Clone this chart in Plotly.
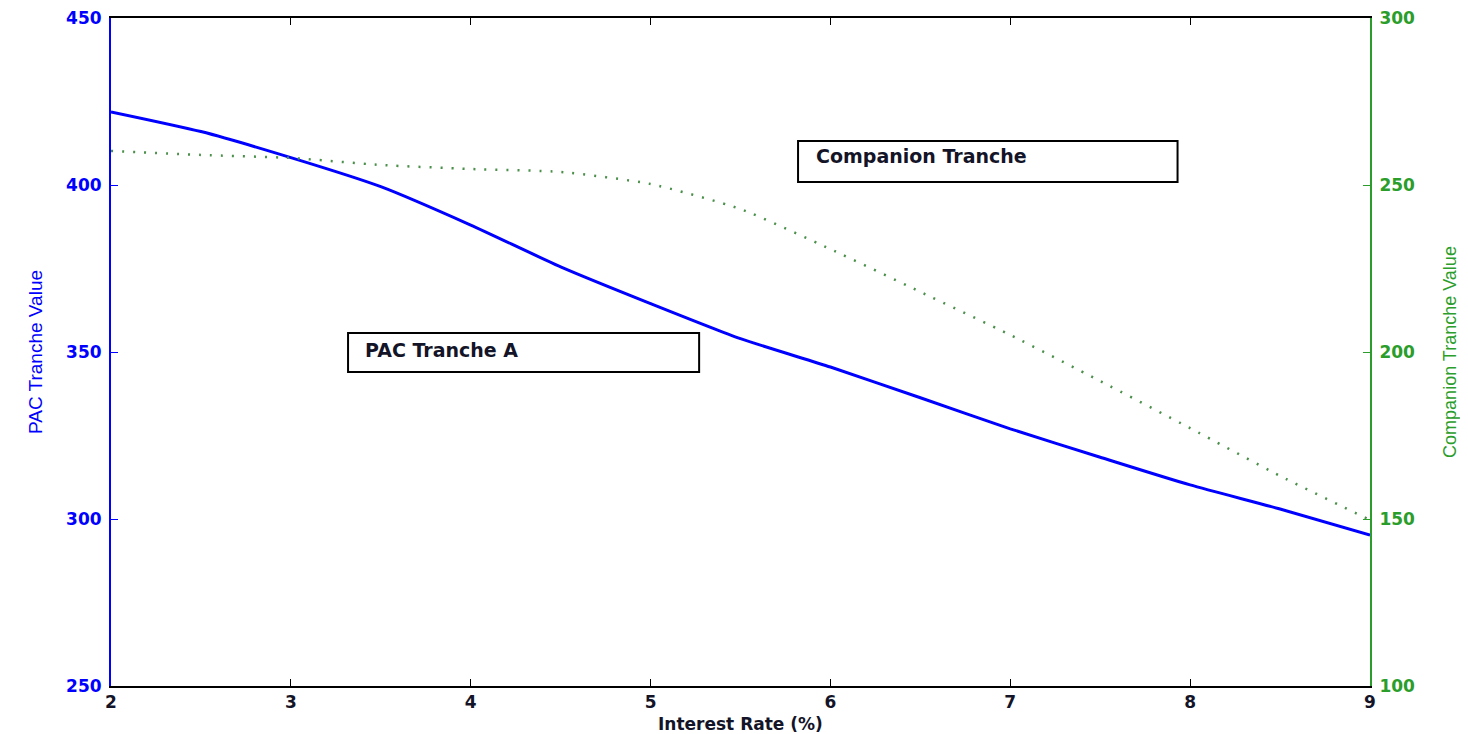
import plotly.graph_objects as go

rate = [2, 2.5, 3, 3.5, 4, 4.5, 5, 5.5, 6, 6.5, 7, 7.5, 8, 8.5, 9]
pac_value = [421.9, 416.0, 408.2, 399.5, 388.0, 375.5, 364.5, 354.0, 345.5,
             336.3, 327.0, 318.5, 310.2, 303.0, 295.2]
companion_value = [260.2, 259.0, 258.1, 256.0, 254.8, 253.9, 250.3, 242.8, 230.8,
                   218.0, 205.1, 191.3, 177.2, 162.9, 149.7]

x_ticks = [2, 3, 4, 5, 6, 7, 8, 9]
y1_ticks = [250, 300, 350, 400, 450]
y2_ticks = [100, 150, 200, 250, 300]

BLUE = "#0000ff"
GREEN = "#2a9d2a"
DOT_GREEN = "#4a8f4a"
FONT = "DejaVu Sans"
TXT = "#141428"

fig = go.Figure()
fig.add_trace(go.Scatter(x=rate, y=pac_value, mode="lines", name="PAC Tranche A",
                         line=dict(color=BLUE, width=3, shape="spline", smoothing=0.6)))
fig.add_trace(go.Scatter(x=rate, y=companion_value, mode="lines", name="Companion Tranche",
                         yaxis="y2",
                         line=dict(color=DOT_GREEN, width=2.5, dash="2px,9px",
                                   shape="spline", smoothing=0.6)))

# text boxes
fig.add_shape(type="rect", xref="x", yref="y", x0=3.318, x1=5.27, y0=344.0, y1=355.7,
              line=dict(color="black", width=2), fillcolor="rgba(0,0,0,0)")
fig.add_annotation(x=3.40, y=350.5, xref="x", yref="y", text="PAC Tranche A",
                   showarrow=False, xanchor="left", yanchor="middle",
                   font=dict(family=FONT, size=19, color=TXT, weight="bold"))
fig.add_shape(type="rect", xref="x", yref="y", x0=5.82, x1=7.93, y0=400.9, y1=413.2,
              line=dict(color="black", width=2), fillcolor="rgba(0,0,0,0)")
fig.add_annotation(x=5.91, y=408.6, xref="x", yref="y", text="Companion Tranche",
                   showarrow=False, xanchor="left", yanchor="middle",
                   font=dict(family=FONT, size=19, color=TXT, weight="bold"))

# x-axis title
fig.add_annotation(x=0.5, y=0, xref="paper", yref="paper", text="Interest Rate (%)",
                   showarrow=False, xanchor="center", yanchor="top", yshift=-26,
                   font=dict(family=FONT, size=17, color=TXT, weight="bold"))

fig.update_layout(
    width=1452, height=726,
    margin=dict(l=103, r=90, t=10, b=48),
    paper_bgcolor="white", plot_bgcolor="white",
    showlegend=False,
    font=dict(family=FONT, size=14, color="black"),
    xaxis=dict(range=[2, 9], tickvals=x_ticks, ticks="inside", ticklen=7,
               tickcolor="black", linecolor="black", linewidth=2, mirror="ticks",
               showgrid=False, zeroline=False, automargin=False,
               ticklabeloverflow="allow",
               tickfont=dict(family=FONT, size=17, color=TXT, weight="bold")),
    yaxis=dict(range=[250, 450], tickvals=y1_ticks, ticks="inside", ticklen=7,
               tickcolor=BLUE, linecolor=BLUE, linewidth=2, showgrid=False,
               zeroline=False, automargin=False, ticklabelstandoff=4,
               ticklabeloverflow="allow",
               tickfont=dict(family=FONT, size=17, color=BLUE, weight="bold"),
               title=dict(text="PAC Tranche Value", standoff=18,
                          font=dict(family="Liberation Sans", size=19, color=BLUE))),
    yaxis2=dict(range=[100, 300], tickvals=y2_ticks, ticks="inside", ticklen=7,
                overlaying="y", side="right", automargin=False, ticklabelstandoff=4,
                ticklabeloverflow="allow",
                tickcolor=GREEN, linecolor=GREEN, linewidth=2, showgrid=False,
                zeroline=False,
                tickfont=dict(family=FONT, size=17, color=GREEN, weight="bold"),
                title=dict(text="Companion Tranche Value", standoff=34,
                           font=dict(family="Liberation Sans", size=18, color=GREEN))),
)

fig.write_html("out.html")
